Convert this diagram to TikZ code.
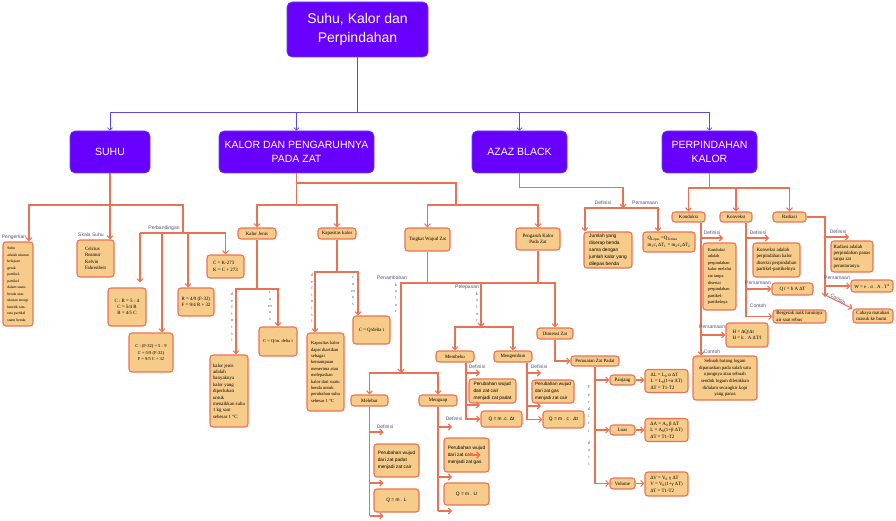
\documentclass[tikz,border=0pt]{standalone}
\usepackage{fontspec}
\setmainfont{Liberation Sans}
\newfontfamily\boxserif{Liberation Serif}
\usetikzlibrary{arrows.meta}
\definecolor{headviolet}{RGB}{104,0,255}
\definecolor{hubline}{RGB}{100,70,230}
\definecolor{coral}{RGB}{234,114,84}
\definecolor{peach}{RGB}{247,204,138}
\definecolor{notegray}{RGB}{80,80,125}

\tikzset{
  headbox/.style={draw=hubline, fill=headviolet, rounded corners=5pt, text=white,
    align=center, line width=0.6pt},
  topic/.style={headbox, minimum width=#1pt, minimum height=42pt,
    font=\fontsize{10.5}{13.5}\selectfont},
  boxwh/.style 2 args={minimum width=#1pt, minimum height=#2pt},
  obox/.style={draw=coral, fill=peach, line width=1.1pt, rounded corners=3pt,
    inner sep=1pt, align=center, font=\boxserif\fontsize{4.9}{6.4}\selectfont},
  sbox/.style={obox, font=\fontsize{4.8}{7}\selectfont},
  notetext/.style={text=notegray, inner sep=0pt, font=\fontsize{5}{6}\selectfont},
  vword/.style={text=notegray, inner sep=0pt, align=center,
    font=\boxserif\fontsize{4.5}{6.6}\selectfont},
  wire/.style={draw=coral, line width=1.1pt},
  warrow/.style={wire, -{Straight Barb[length=3pt,width=6pt]}},
  hwire/.style={draw=hubline, line width=0.8pt},
  harrow/.style={hwire, -{Straight Barb[length=2.5pt,width=5pt]}},
}

\begin{document}
\begin{tikzpicture}[x=1pt, y=-1pt]
  \useasboundingbox (0,0) rectangle (896,521);

  % title and the four topics
  \node[headbox, boxwh={141}{55}, font=\fontsize{14}{19}\selectfont] (title)
        at (357.5,29.5) {Suhu, Kalor dan\\Perpindahan};
  \node[topic=80]  (suhu)  at (110,152)   {SUHU};
  \node[topic=155] (kalor) at (296.5,152) {KALOR DAN PENGARUHNYA\\PADA ZAT};
  \node[topic=95]  (azaz)  at (519.5,152) {AZAZ BLACK};
  \node[topic=95]  (perp)  at (709.5,152) {PERPINDAHAN\\KALOR};

  \coordinate (hub) at (357.5,112);
  \draw[hwire] (title.south) -- (hub);
  \draw[hwire] (suhu.north |- hub) -- (perp.north |- hub);
  \foreach \n in {suhu,kalor,azaz,perp}
    \draw[harrow] (\n.north |- hub) -- (\n.north);

  % suhu
  \node[obox, boxwh={30}{84}, align=left, font=\boxserif\fontsize{3.8}{6.5}\selectfont] (peng)
        at (18,284) {Suhu\\adalah ukuran\\kelajuan\\gerak\\partikel-\\partikel\\dalam suatu\\benda atau\\ukuran energi\\kinetik rata-\\rata partikel\\suatu benda.};
  \node[obox, boxwh={37}{37}, align=left] (skala) at (95.5,258.5) {Celcius\\Reamur\\Kelvin\\Fahrenheit};
  \node[obox, boxwh={38}{38}] (crbox) at (127,307) {C : R = 5 : 4\\C = 5/4 R\\R = 4/5 C};
  \node[obox, boxwh={44}{39}, font=\boxserif\fontsize{4.5}{6.4}\selectfont] (cfbox)
        at (151,352.5) {C : (F-32) = 5 : 9\\C = 5/9 (F-32)\\F = 9/5 C + 32};
  \node[obox, boxwh={36}{28}, align=left] (rfbox) at (196,302) {R = 4/9 (F-32)\\F = 9/4 R + 32};
  \node[obox, boxwh={37}{23}, align=left] (ckbox) at (225.5,266.5) {C = K-273\\K = C + 273};

  \node[notetext] (lpeng) at (14,237) {Pengertian};
  \node[notetext] (lskala) at (91,235) {Skala Suhu};
  \node[notetext] (lbanding) at (164,228) {Perbandingan};

  \coordinate (sj) at (110,205);
  \coordinate (pb) at (183,233);
  \draw[warrow] (suhu.south) -- (suhu.south |- skala.north);
  \draw[warrow] (sj) -| ([xshift=11pt]peng.north);
  \draw[wire] (sj) -| (pb);
  \draw[wire] (140,233) -- (ckbox.north |- pb);
  \draw[warrow, shorten >=5pt] (140,233) -- ([xshift=13pt]crbox.north);
  \draw[warrow] (162,233) -- ([xshift=11pt]cfbox.north);
  \draw[warrow] (188,233) -- ([xshift=-8pt]rfbox.north);
  \draw[warrow] (ckbox.north |- pb) -- (ckbox.north);

  % kalor dan pengaruhnya
  \node[obox, boxwh={38}{11}] (kjenis) at (257,233.5) {Kalor Jenis};
  \node[obox, boxwh={38}{11}] (kapas) at (337,233.5) {Kapasitas kalor};
  \node[obox, boxwh={38}{72}, align=left] (kjdef) at (229,391)
        {kalor jenis\\adalah\\banyaknya\\kalor yang\\diperlukan\\untuk\\menaikkan suhu\\1 kg saat\\sebesar 1 °C};
  \node[obox, boxwh={38}{29}, font=\boxserif\fontsize{4.5}{6.4}\selectfont] (kjrum)
        at (278,341.5) {C = Q/m. delta t};
  \node[obox, boxwh={37}{78}, align=left, font=\boxserif\fontsize{4.6}{6.4}\selectfont] (kpdef)
        at (325.5,372) {Kapasitas kalor\\dapat diartikan\\sebagai\\kemampuan\\menerima atau\\melepaskan\\kalor dari suatu\\benda untuk\\perubahan suhu\\sebesar 1 °C};
  \node[obox, boxwh={37}{28}] (kprum) at (371.5,330) {C = Q/delta t};

  \coordinate (kz) at (296.5,183);
  \coordinate (kj) at (296.5,205);
  \coordinate (tj) at (456,205);
  \draw[wire] (kalor.south) -- (kj);
  \draw[warrow] (kj) -| (kjenis.north);
  \draw[warrow] (kj) -| (kapas.north);
  \draw[wire] (kz) -| (tj);

  \coordinate (kjj) at (257,289);
  \draw[wire] (kjenis.south) -- (kjj);
  \draw[warrow] (kjj) -| ([xshift=7pt]kjdef.north);
  \draw[warrow] (kjj) -| (kjrum.north);
  \node[vword] (vdef1) at (232,317) {d\\e\\f\\i\\n\\i\\s\\i};
  \node[vword] (vrum1) at (270,306) {r\\u\\m\\u\\s};

  \coordinate (kpj) at (337,272);
  \draw[wire] (kapas.south) -- (kpj);
  \draw[warrow] (kpj) -| ([xshift=-10.5pt]kpdef.north);
  \draw[warrow] (kpj) -| ([xshift=-13.5pt]kprum.north);
  \node[vword] (vdef2) at (312,298) {d\\e\\f\\i\\n\\i\\s\\i};
  \node[vword] (vrum2) at (353,291) {r\\u\\m\\u\\s};

  % wujud zat
  \node[obox, boxwh={45}{23}] (tingkat) at (427.5,239.5) {Tingkat Wujud Zat};
  \node[obox, boxwh={44}{22}] (pengaruh) at (538,239) {Pengaruh Kalor\\Pada Zat};
  \node[obox, boxwh={38}{11}] (membeku) at (455,356.5) {Membeku};
  \node[obox, boxwh={38}{11}] (mengembun) at (513,356.5) {Mengembun};
  \node[obox, boxwh={37}{11}] (melebur) at (369.5,400.5) {Melebur};
  \node[obox, boxwh={38}{11}] (menguap) at (438,400.5) {Menguap};
  \node[obox, boxwh={36}{11}] (dimensi) at (555,333.5) {Dimensi Zat};

  \node[sbox, boxwh={47}{24}, align=left] (mbdef) at (492.5,391) {Perubahan wujud\\dari zat cair\\menjadi zat padat};
  \node[sbox, boxwh={41}{16}] (mbq) at (501.5,419) {Q = m .c. Δt};
  \node[sbox, boxwh={42}{23}, align=left, font=\fontsize{4.6}{7}\selectfont] (medef)
        at (553,391.5) {Perubahan wujud\\dari zat gas\\menjadi zat cair};
  \node[sbox, boxwh={41}{17}] (meq) at (563.5,419.5) {Q = m . c . Δt};
  \node[sbox, boxwh={45}{33}, align=left] (mldef) at (396.5,460.5) {Perubahan wujud\\dari zat padat\\menjadi zat cair};
  \node[sbox, boxwh={45}{23}] (mlq) at (396.5,500.5) {Q = m . L};
  \node[sbox, boxwh={45}{34}, align=left] (mudef) at (466.5,455) {Perubahan wujud\\dari zat cair\\menjadi zat gas};
  \node[sbox, boxwh={45}{22}] (muq) at (466.5,494) {Q = m . U};

  \draw[warrow] (tj) -| (tingkat.north);
  \draw[warrow] (tj) -| (pengaruh.north);

  \coordinate (wj) at (427.5,283);
  \coordinate (pj) at (401,373);
  \coordinate (lj) at (481,327);
  \draw[wire] (tingkat.south) -- (wj);
  \draw[wire] (pengaruh.south) -- (pengaruh.south |- wj);
  \draw[warrow] (wj) -| (pj);
  \draw[warrow] (wj) -| (lj);
  \draw[warrow] (wj) -| (dimensi.north);
  \draw[warrow] (pj) -| (melebur.north);
  \draw[warrow] (pj) -| (menguap.north);
  \draw[warrow] (lj) -| (membeku.north);
  \draw[warrow] (lj) -| (mengembun.north);
  \node[notetext] (ltambah) at (392,278) {Penambahan};
  \node[vword] (vtambah) at (396,298) {k\\a\\l\\o\\r};
  \node[notetext] (llepas) at (467,287) {Pelepasan};
  \node[vword] (vlepas) at (477,307) {k\\a\\l\\o\\r};

  \coordinate (mbv) at ([xshift=11pt]membeku.south);
  \draw[warrow] (mbv) |- (mbq.west);
  \foreach \yy in {373,405}
    \draw[warrow] (mbv |- 0,\yy) -- ++(14,0);
  \node[notetext] (ldef1) at (477,367) {Definisi};

  \coordinate (mev) at ([xshift=14pt]mengembun.south);
  \draw[warrow] (mev) |- (meq.west);
  \foreach \yy in {373,406}
    \draw[warrow] (mev |- 0,\yy) -- ++(14,0);
  \node[notetext] (ldef2) at (539,367) {Definisi};

  \coordinate (mlv) at (melebur.south);
  \draw[wire] (mlv) -- (mlv |- 0,516);
  \foreach \yy in {432,483,516}
    \draw[warrow] (mlv |- 0,\yy) -- ++(14,0);
  \node[notetext] (ldef3) at (385,427) {Definisi};

  \coordinate (muv) at (menguap.south);
  \draw[wire] (muv) -- (muv |- 0,511);
  \foreach \yy in {427,477,511}
    \draw[warrow] (muv |- 0,\yy) -- ++(14,0);
  \draw[warrow] (mudef.center) -- ++(14,0);
  \node[notetext] (ldef4) at (454,419) {Definisi};

  % pemuaian
  \node[obox, boxwh={48}{10}] (pemuaian) at (595,361) {Pemuaian Zat Padat};
  \node[obox, boxwh={25}{10}] (panjang) at (622.5,380) {Panjang};
  \node[obox, boxwh={25}{10}] (luas) at (622.5,430) {Luas};
  \node[obox, boxwh={25}{11}] (volume) at (622.5,483.5) {Volume};
  \node[obox, boxwh={43}{23}, align=left] (pjf) at (666.5,381)
        {ΔL = L\textsubscript{0} α ΔT\\L = L\textsubscript{0}(1+α ΔT)\\ΔT = T1-T2};
  \node[obox, boxwh={43}{23}, align=left] (lsf) at (666.5,430)
        {ΔA = A\textsubscript{0} β ΔT\\L = A\textsubscript{0}(1+β ΔT)\\ΔT = T1-T2};
  \node[obox, boxwh={43}{24}, align=left] (vlf) at (666.5,484)
        {ΔV = V\textsubscript{0} γ ΔT\\V = V\textsubscript{0}(1+γ ΔT)\\ΔT = T1-T2};

  \draw[warrow] (dimensi.south) |- (pemuaian.west);
  \foreach \n in {panjang,luas,volume}
    \draw[warrow] (pemuaian.south) |- (\n.west);
  \draw[warrow] (panjang.east) -- (panjang.east -| pjf.west);
  \draw[warrow] (luas.east) -- (luas.east -| lsf.west);
  \draw[warrow] (volume.east) -- (volume.east -| vlf.west);
  \node[vword, font=\boxserif\fontsize{4.5}{7.2}\selectfont] (vterdiri) at (589,426)
        {T\\e\\r\\d\\i\\r\\i\\[5pt]d\\a\\r\\i};

  % azaz black
  \node[sbox, boxwh={48}{36}, align=left] (azdef) at (608,250)
        {Jumlah yang\\diserap benda\\sama dengan\\jumlah kalor yang\\dilepas benda};
  \node[obox, boxwh={52}{20}, align=left] (azeq) at (669,242)
        {Q\textsubscript{Lepas} =Q\textsubscript{Terima}\\m\textsubscript{1}c\textsubscript{1}ΔT\textsubscript{1} = m\textsubscript{2}c\textsubscript{2}ΔT\textsubscript{2}};
  \coordinate (aj) at (623,208);
  \draw[warrow] (azaz.south) -- ++(0,14) -| (aj);
  \draw[warrow] (aj) -| ([xshift=-23pt]azdef.north);
  \draw[warrow] (aj) -| ([xshift=-11pt]azeq.north);
  \node[notetext] (ldef5) at (603,203) {Definisi};
  \node[notetext] (lpers1) at (645,203) {Persamaan};

  % perpindahan kalor
  \node[obox, boxwh={33}{10}] (konduksi) at (688.5,217) {Konduksi};
  \node[obox, boxwh={32}{10}] (konveksi) at (736,217) {Konveksi};
  \node[obox, boxwh={33}{10}] (radiasi) at (789.5,217) {Radiasi};
  \coordinate (pk) at (709.5,188);
  \draw[wire] (perp.south) -- (pk);
  \foreach \n in {konduksi,konveksi,radiasi}
    \draw[warrow] (pk) -| (\n.north);

  \node[obox, boxwh={33}{67}, align=left, font=\boxserif\fontsize{4.4}{6.6}\selectfont] (kddef)
        at (719.5,276.5) {Konduksi\\adalah\\perpindahan\\kalor melalui\\zat tanpa\\disertai\\perpindahan\\partikel-\\partikelnya};
  \node[obox, boxwh={42}{24}, align=left] (kdeq) at (747,335) {H = ΔQ/Δt\\H = k . A ΔT/l};
  \node[obox, boxwh={64}{44}, font=\boxserif\fontsize{4.8}{6.7}\selectfont] (kdcon) at (725,378)
        {Sebuah batang logam\\dipanaskan pada salah satu\\ujungnya atau sebuah\\sendok logam diletakkan\\didalam secangkir kopi\\yang panas};
  \coordinate (kdv) at ([xshift=12.5pt]konduksi.south);
  \draw[warrow] (kdv) -- (kdv |- kdcon.north);
  \draw[warrow] (kdv |- 0,238) -- ++(22,0);
  \draw[warrow] (kdv |- kdeq.west) -- (kdeq.west);
  \node[notetext] (ldef6) at (712,233) {Definisi};
  \node[notetext] (lpers2) at (712,327) {Persamaan};
  \node[notetext] (lcon1) at (712,352) {Contoh};

  \node[obox, boxwh={47}{34}, align=left] (kvdef) at (776.5,260)
        {Konveksi adalah\\perpindahan kalor\\disertai perpindahan\\partikel-partikelnya};
  \node[obox, boxwh={41}{12}] (kveq) at (792.5,289) {Q t = h A ΔT};
  \node[obox, boxwh={53}{13}, align=left] (kvcon) at (799.5,316.5) {Bergerak naik turunnya\\air saat rebus};
  \coordinate (kvv) at ([xshift=10pt]konveksi.south);
  \draw[wire] (kvv) -- (kvv |- kvcon.west);
  \draw[warrow] (kvv |- 0,238) -- ++(23,0);
  \draw[warrow] (kvv |- kveq.west) -- (kveq.west);
  \draw[warrow] (kvv |- kvcon.west) -- (kvcon.west);
  \node[notetext] (ldef7) at (758,233) {Definisi};
  \node[notetext] (lpers3) at (758,283) {Persamaan};
  \node[notetext] (lcon2) at (758,306) {Contoh};

  \node[obox, boxwh={42}{31}, align=left] (rddef) at (852,256.5)
        {Radiasi adalah\\perpindahan panas\\tanpa zat\\perantaranya.};
  \node[obox, boxwh={42}{12}] (rdeq) at (872,286) {W = e . σ . A . T\textsuperscript{4}};
  \node[obox, boxwh={40}{14}, align=left] (rdcon) at (873,316) {Cahaya matahari\\masuk ke bumi};
  \coordinate (rdv) at (825,217);
  \draw[warrow] (radiasi.east) -- (rdv) -- (rdv |- 0,297);
  \draw[warrow] (rdv |- 0,237) -- ++(24,0);
  \draw[warrow] (rdv |- rdeq.west) -- (rdeq.west);
  \draw[warrow] (rdv |- 0,295) -- (rdcon.north west);
  \node[notetext] (ldef8) at (838,232) {Definisi};
  \node[notetext] (lpers4) at (837,278) {Persamaan};
  \node[notetext, rotate=-28] (lcon3) at (838,299) {Contoh};
\end{tikzpicture}
\end{document}
